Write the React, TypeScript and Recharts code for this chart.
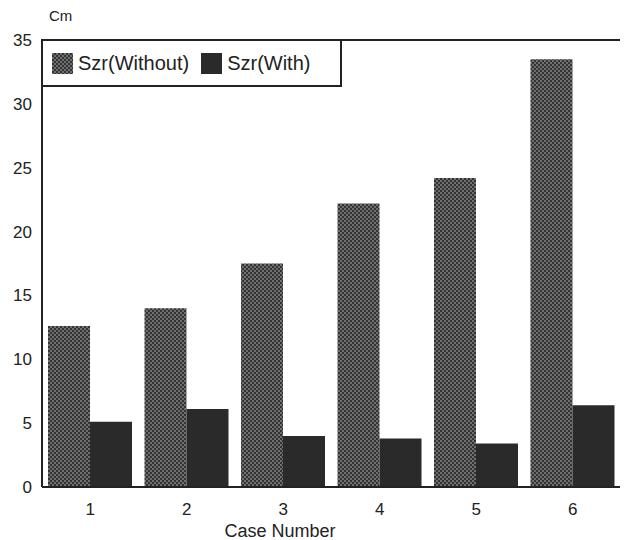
import { BarChart, Bar, XAxis, YAxis } from "recharts";

const cases = ["1", "2", "3", "4", "5", "6"];
const szrWithout = [12.6, 14.0, 17.5, 22.2, 24.2, 33.5];
const szrWith = [5.1, 6.1, 4.0, 3.8, 3.4, 6.4];
const yTicks = [0, 5, 10, 15, 20, 25, 30, 35];

const data = cases.map((c, i) => ({ case: c, without: szrWithout[i], with: szrWith[i] }));

const FONT = "'Liberation Sans', Arial, Helvetica, sans-serif";
const INK = "#222";

function LegendBox() {
  const item = (fill: string, text: string) => (
    <div style={{ display: "flex", alignItems: "center", marginRight: 12 }}>
      <svg width={21} height={21} style={{ marginRight: 5 }}>
        <rect width={21} height={21} fill={fill} />
      </svg>
      <span>{text}</span>
    </div>
  );
  return (
    <div
      style={{
        position: "absolute",
        left: 33,
        top: 31,
        width: 288,
        height: 44,
        border: `2px solid ${INK}`,
        display: "flex",
        alignItems: "center",
        paddingLeft: 9,
        fontSize: 20,
        background: "#fff",
      }}
    >
      {item("url(#dots)", "Szr(Without)")}
      {item("#2a2a2a", "Szr(With)")}
    </div>
  );
}

export default function App() {
  return (
    <div style={{ width: 620, height: 532, background: "#fff", position: "relative", fontFamily: FONT, color: INK }}>
      <BarChart
        width={620}
        height={532}
        data={data}
        margin={{ top: 31, right: 6, left: 0, bottom: 0 }}
        barCategoryGap={6}
        barGap={0}
      >
        <defs>
          <pattern id="dots" width={4} height={4} patternUnits="userSpaceOnUse">
            <rect width={4} height={4} fill="#333" />
            <circle cx={1} cy={1} r={0.8} fill="#bbb" />
            <circle cx={3} cy={3} r={0.8} fill="#bbb" />
          </pattern>
        </defs>
        <XAxis
          dataKey="case"
          height={53}
          tickLine={false}
          tickMargin={10}
          axisLine={{ stroke: INK, strokeWidth: 2 }}
          tick={{ fill: INK, fontSize: 17, fontFamily: FONT }}
        />
        <XAxis xAxisId="top" dataKey="case" orientation="top" height={1} tick={false} tickLine={false} axisLine={{ stroke: INK, strokeWidth: 2 }} />
        <YAxis
          width={34}
          domain={[0, 35]}
          ticks={yTicks}
          interval={0}
          tickLine={false}
          tickMargin={4}
          axisLine={{ stroke: INK, strokeWidth: 2 }}
          tick={{ fill: INK, fontSize: 17, fontFamily: FONT }}
        />
        <YAxis yAxisId="right" orientation="right" width={1} domain={[0, 35]} tick={false} tickLine={false} axisLine={{ stroke: INK, strokeWidth: 2 }} />
        <Bar dataKey="without" name="Szr(Without)" fill="url(#dots)" isAnimationActive={false} />
        <Bar dataKey="with" name="Szr(With)" fill="#2a2a2a" isAnimationActive={false} />
      </BarChart>
      <LegendBox />
      <div style={{ position: "absolute", left: 41, top: -1, fontSize: 15 }}>Cm</div>
      <div style={{ position: "absolute", left: 172, width: 200, top: 514, fontSize: 18, textAlign: "center", lineHeight: "18px" }}>
        Case Number
      </div>
    </div>
  );
}
